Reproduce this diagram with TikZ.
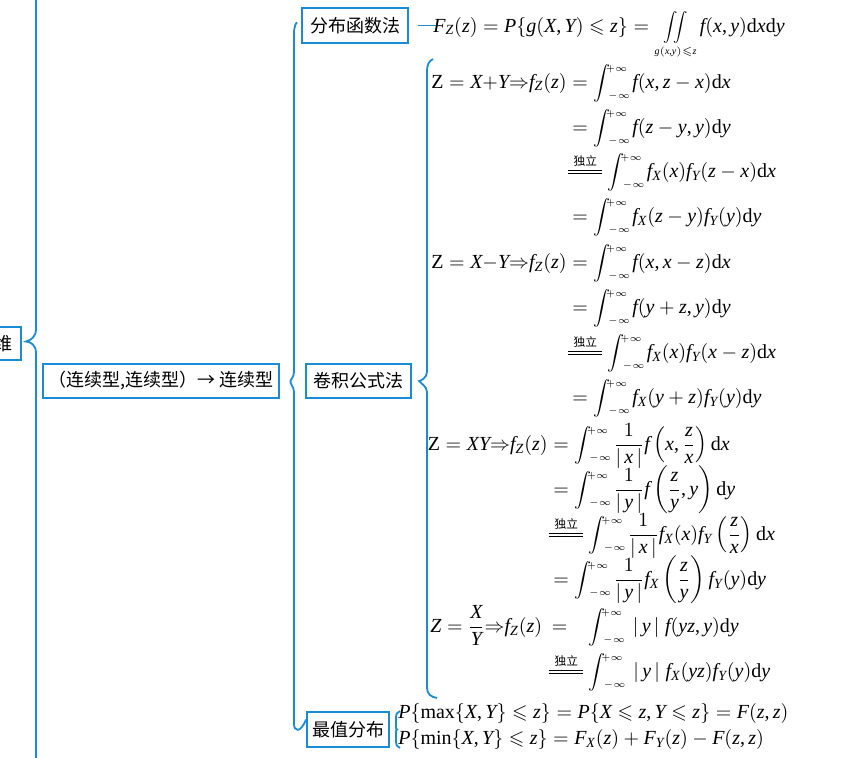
\documentclass[tikz,border=0pt]{standalone}
\usepackage{fix-cm}
\usepackage{amsmath,amssymb,graphicx}
\usepackage{fontspec}
\setmainfont{Liberation Serif}
\newfontfamily\cjk{Noto Sans CJK SC}
\DeclareSymbolFont{operators}{\encodingdefault}{\rmdefault}{m}{n}
\DeclareSymbolFont{letters}{\encodingdefault}{\rmdefault}{m}{it}
\mathcode`,="602C
\definecolor{mapblue}{RGB}{25,140,215}
\newcommand{\dleq}{\mathrel{\overset{\text{\cjk\fontsize{6.5}{7}\selectfont 独立}}{\vcenter{\hbox{\vbox{\hrule width 1.7em height 0.45pt\vskip 1.6pt\hrule width 1.7em height 0.45pt}}}}}}
\newcommand{\ii}{\mathop{\vcenter{\hbox{\scalebox{0.85}{$\displaystyle\int$}}}\mkern-4mu\vcenter{\hbox{\tiny\begin{tabular}{@{}l@{}}$+\infty$\\[9pt]$\,-\infty$\end{tabular}}}}\mkern-1mu}
\newcommand{\dd}{\mathrm{d}}
\begin{document}
\begin{tikzpicture}[x=0.5556pt,y=-0.5556pt,
  bl/.style={draw=mapblue,line width=1pt},
  box/.style={draw=mapblue,line width=1.1pt,inner sep=0pt,font=\cjk},
  bw/.style={minimum width={#1*0.5556pt}},
  bh/.style={minimum height={#1*0.5556pt}},
  fm/.style={anchor=base west,inner sep=0pt,font=\fontsize{11.1}{13.4}\selectfont},
  lhs/.style={anchor=base east,inner sep=0pt,font=\fontsize{11.1}{13.4}\selectfont}]
\useasboundingbox (0,0) rectangle (845,757);
\clip (0,0) rectangle (845,757);

% boxes
\node[box,bw=35,bh=33] (wei) at (3.5,343.5) {维};
\node[box,bw=236,bh=34] (cc) at (161,381) {（连续型,连续型）→ 连续型};
\node[box,bw=106,bh=35] (fb) at (355,25.5) {分布函数法};
\node[box,bw=105,bh=34] (jj) at (358.5,381) {卷积公式法};
\node[box,bw=82,bh=35] (zz) at (348,729.5) {最值分布};

% braces
\draw[bl] (36,-5) -- (36,329) .. controls (36,337) and (31,340) .. ([shift={(4,-2)}]wei.east)
  .. controls (31,342) and (36,345) .. (36,353) -- (36,762);
\draw[bl] ([shift={(-4,-3)}]fb.west) .. controls (296,23) and (294,26) .. (294,34) -- (294,372)
  .. controls (294,378) and (289,381) .. ([xshift=6]cc.east)
  .. controls (289,383) and (294,386) .. (294,392) -- (294,724)
  .. controls (294,731) and (300,734) .. ([yshift=5.5]zz.west);
\draw[bl] (433,59) .. controls (429,61) and (427,64) .. (427,72) -- (427,372)
  .. controls (427,378) and (420,381) .. ([xshift=4]jj.east)
  .. controls (420,383) and (427,386) .. (427,392) -- (427,688)
  .. controls (427,694) and (431,697) .. (437,698);
\draw[bl] (400,711) .. controls (397,712) and (396,714) .. (396,718) -- (396,725)
  .. controls (396,727.5) and (395,729) .. ([xshift=4]zz.east)
  .. controls (395,730) and (396,731.5) .. (396,734) -- (396,741)
  .. controls (396,745) and (397,747) .. (400,748);
\draw[bl] ([xshift=5]fb.east) -- ([xshift=15]fb.east);

% 分布函数法
\node[fm] (f0) at (433,32) {$F_Z(z)=P\{g(X,Y)\leqslant z\}=\mathop{\vcenter{\hbox{\scalebox{0.72}{$\displaystyle\iint$}}}}\limits_{\scriptscriptstyle g(x,y)\leqslant z}f(x,y)\dd x\dd y$};

% Z = X+Y
\node[lhs] (a1l) at (567,88) {$\mathrm{Z}=X{+}Y{\Rightarrow}f_Z(z)$};
\node[fm] (a1) at (572,88) {$=\ii f(x,z-x)\dd x$};
\node[fm] (a2) at (572,133) {$=\ii f(z-y,y)\dd y$};
\node[fm] (a3) at (568,177) {$\dleq\ii f_X(x)f_Y(z-x)\dd x$};
\node[fm] (a4) at (572,222) {$=\ii f_X(z-y)f_Y(y)\dd y$};

% Z = X-Y
\node[lhs] (b1l) at (567,268) {$\mathrm{Z}=X{-}Y{\Rightarrow}f_Z(z)$};
\node[fm] (b1) at (572,268) {$=\ii f(x,x-z)\dd x$};
\node[fm] (b2) at (572,313) {$=\ii f(y+z,y)\dd y$};
\node[fm] (b3) at (568,358) {$\dleq\ii f_X(x)f_Y(x-z)\dd x$};
\node[fm] (b4) at (572,403) {$=\ii f_X(y+z)f_Y(y)\dd y$};

% Z = XY
\node[lhs] (c1l) at (548,450) {$\mathrm{Z}=XY{\Rightarrow}f_Z(z)$};
\node[fm] (c1) at (553,450) {$=\ii\dfrac{1}{|\,x\,|}f\left(x,\dfrac{z}{x}\right)\dd x$};
\node[fm] (c2) at (553,495) {$=\ii\dfrac{1}{|\,y\,|}f\left(\dfrac{z}{y},y\right)\dd y$};
\node[fm] (c3) at (549,540) {$\dleq\ii\dfrac{1}{|\,x\,|}f_X(x)f_Y\left(\dfrac{z}{x}\right)\dd x$};
\node[fm] (c4) at (553,585) {$=\ii\dfrac{1}{|\,y\,|}f_X\left(\dfrac{z}{y}\right)f_Y(y)\dd y$};

% Z = X/Y
\node[fm] (d1l) at (430,632) {$Z=\dfrac{X}{Y}{\Rightarrow}f_Z(z)$};
\node[fm] (d1e) at ([xshift=5]d1l.base east) {$=$};
\node[fm] (d1) at (588,632) {$\ii\;|\,y\,|\;f(yz,y)\dd y$};
\node[fm] (d2) at (549,677) {$\dleq\ii\;|\,y\,|\;f_X(yz)f_Y(y)\dd y$};

% 最值分布
\node[fm] (m1) at (398,718) {$P\{\max\{X,Y\}\leqslant z\}=P\{X\leqslant z,Y\leqslant z\}=F(z,z)$};
\node[fm] (m2) at (398,744) {$P\{\min\{X,Y\}\leqslant z\}=F_X(z)+F_Y(z)-F(z,z)$};
\end{tikzpicture}
\end{document}
